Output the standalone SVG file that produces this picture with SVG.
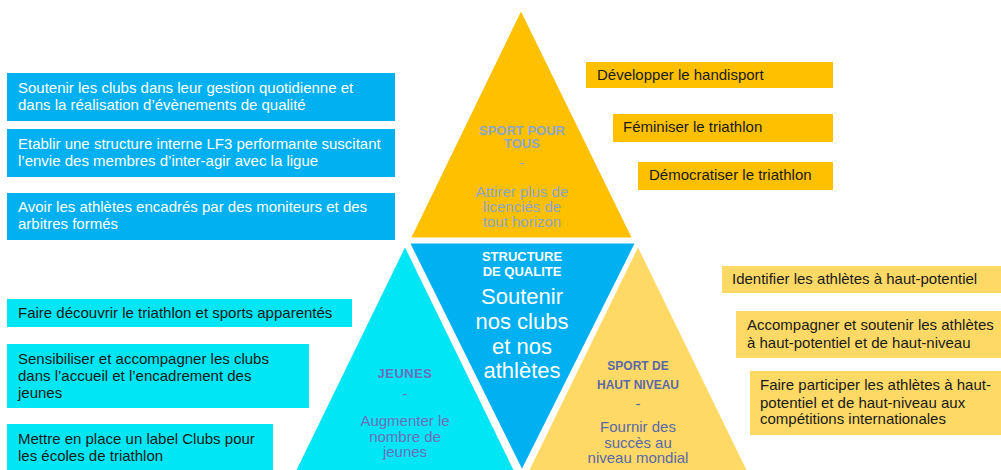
<svg xmlns="http://www.w3.org/2000/svg" width="1001" height="470" viewBox="0 0 1001 470">
<style>
text{font-family:"Liberation Sans",Arial,sans-serif}
.tri{stroke:#fff;stroke-width:3;stroke-linejoin:miter}
.blue{fill:#00B0F0}
.cyan{fill:#00E6F4}
.gold{fill:#FFC000}
.pale{fill:#FFD966}
.bt{font-size:15px;fill:#fff}
.dt{font-size:15px;fill:#1a1a1a}
.hd{font-size:13px;font-weight:bold;text-anchor:middle}
.bd{font-size:15px;text-anchor:middle}
</style>
<rect width="1001" height="470" fill="#fff"/>

<g id="tri-top">
<polygon class="tri gold" points="521,8 409,239 634,239"/>
<text class="hd" x="522" y="135" fill="#8CA5C8">SPORT POUR</text>
<text class="hd" x="522" y="148" fill="#8CA5C8">TOUS</text>
<text class="bd" x="522" y="168" fill="#8CA5C8">-</text>
<text class="bd" x="522" y="197" fill="#8CA5C8">Attirer plus de</text>
<text class="bd" x="522" y="212" fill="#8CA5C8">licenciés de</text>
<text class="bd" x="522" y="227" fill="#8CA5C8">tout horizon</text>
</g>

<g id="tri-left">
<polygon class="tri cyan" points="405,244 289,482 521,482"/>
<text class="hd" x="405" y="378" fill="#6A70BE" letter-spacing="0.5">JEUNES</text>
<text class="bd" x="405" y="399" fill="#6A70BE">-</text>
<text class="bd" x="405" y="426" fill="#6A70BE">Augmenter le</text>
<text class="bd" x="405" y="442" fill="#6A70BE">nombre de</text>
<text class="bd" x="405" y="457" fill="#6A70BE">jeunes</text>
</g>

<g id="tri-right">
<polygon class="tri pale" points="638,244 522,482 754,482"/>
<text class="hd" x="638" y="370" fill="#5A68A8" style="font-size:12px">SPORT DE</text>
<text class="hd" x="638" y="389" fill="#5A68A8" style="font-size:12px">HAUT NIVEAU</text>
<text class="bd" x="638" y="409" fill="#5A68A8">-</text>
<text class="bd" x="638" y="432" fill="#5A68A8">Fournir des</text>
<text class="bd" x="638" y="448" fill="#5A68A8">succès au</text>
<text class="bd" x="638" y="463" fill="#5A68A8">niveau mondial</text>
</g>

<g id="tri-center">
<polygon class="tri blue" points="408,242 637,242 522,472"/>
<text class="hd" x="522" y="261" fill="#fff">STRUCTURE</text>
<text class="hd" x="522" y="276" fill="#fff">DE QUALITE</text>
<text x="522" y="304" fill="#fff" font-size="22" text-anchor="middle">Soutenir</text>
<text x="522" y="329" fill="#fff" font-size="22" text-anchor="middle">nos clubs</text>
<text x="522" y="354" fill="#fff" font-size="22" text-anchor="middle">et nos</text>
<text x="522" y="378" fill="#fff" font-size="22" text-anchor="middle">athlètes</text>
</g>

<g id="box-l1">
<rect class="blue" x="7" y="73" width="388" height="48"/>
<text class="bt" x="18" y="93">Soutenir les clubs dans leur gestion quotidienne et</text>
<text class="bt" x="18" y="110">dans la réalisation d’évènements de qualité</text>
</g>
<g id="box-l2">
<rect class="blue" x="7" y="129" width="388" height="48"/>
<text class="bt" x="18" y="149">Etablir une structure interne LF3 performante suscitant</text>
<text class="bt" x="18" y="166">l’envie des membres d’inter-agir avec la ligue</text>
</g>
<g id="box-l3">
<rect class="blue" x="7" y="193" width="388" height="47"/>
<text class="bt" x="18" y="212">Avoir les athlètes encadrés par des moniteurs et des</text>
<text class="bt" x="18" y="229">arbitres formés</text>
</g>

<g id="box-l4">
<rect class="cyan" x="7" y="299" width="345" height="28"/>
<text class="dt" x="18" y="318">Faire découvrir le triathlon et sports apparentés</text>
</g>
<g id="box-l5">
<rect class="cyan" x="7" y="344" width="302" height="64"/>
<text class="dt" x="18" y="364">Sensibiliser et accompagner les clubs</text>
<text class="dt" x="18" y="381">dans l’accueil et l’encadrement des</text>
<text class="dt" x="18" y="398">jeunes</text>
</g>
<g id="box-l6">
<rect class="cyan" x="7" y="424" width="266" height="50"/>
<text class="dt" x="18" y="444">Mettre en place un label Clubs pour</text>
<text class="dt" x="18" y="461">les écoles de triathlon</text>
</g>

<g id="box-r1">
<rect class="gold" x="586" y="62" width="247" height="26"/>
<text class="dt" x="597" y="80">Développer le handisport</text>
</g>
<g id="box-r2">
<rect class="gold" x="613" y="114" width="220" height="28"/>
<text class="dt" x="623" y="132">Féminiser le triathlon</text>
</g>
<g id="box-r3">
<rect class="gold" x="638" y="162" width="195" height="28"/>
<text class="dt" x="649" y="180">Démocratiser le triathlon</text>
</g>

<g id="box-r4">
<rect class="pale" x="722" y="266" width="279" height="27"/>
<text class="dt" x="732" y="284">Identifier les athlètes à haut-potentiel</text>
</g>
<g id="box-r5">
<rect class="pale" x="736" y="311" width="265" height="47"/>
<text class="dt" x="747" y="330">Accompagner et soutenir les athlètes</text>
<text class="dt" x="747" y="348">à haut-potentiel et de haut-niveau</text>
</g>
<g id="box-r6">
<rect class="pale" x="750" y="371" width="251" height="64"/>
<text class="dt" x="760" y="390">Faire participer les athlètes à haut-</text>
<text class="dt" x="760" y="408">potentiel et de haut-niveau aux</text>
<text class="dt" x="760" y="424">compétitions internationales</text>
</g>

<g id="connectors"></g>
</svg>
